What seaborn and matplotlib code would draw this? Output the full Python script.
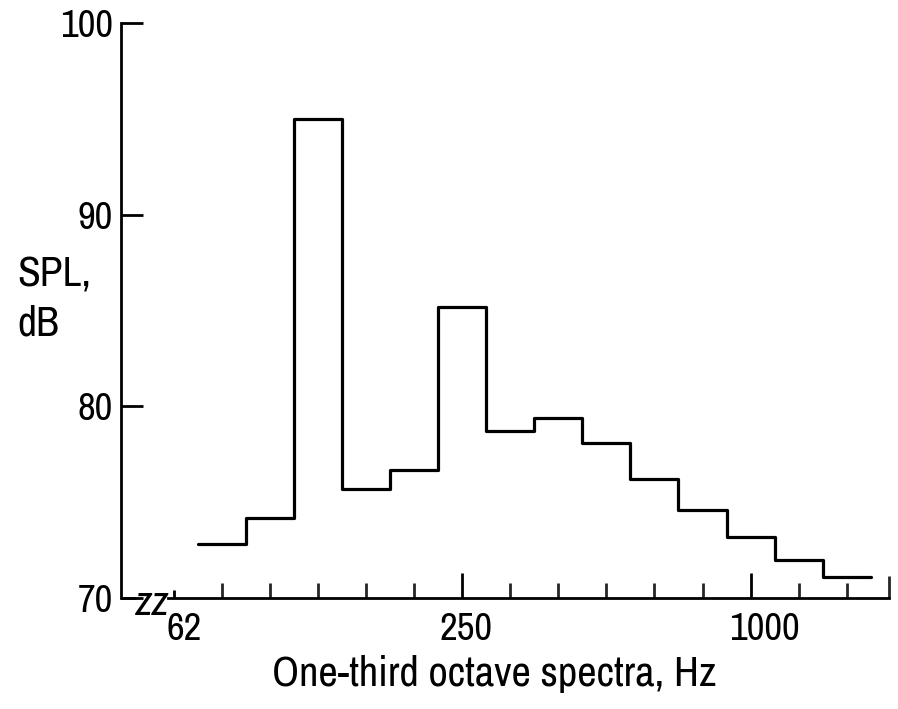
import numpy as np
import pandas as pd
import matplotlib
matplotlib.use("Agg")
import matplotlib.pyplot as plt
import matplotlib.transforms as mtransforms
import seaborn as sns
from matplotlib import font_manager as fm

# One-third octave band centre frequencies (Hz) and SPL (dB)
bands = ["80", "100", "125", "160", "200", "250", "315", "400", "500",
         "630", "800", "1000", "1250", "1600"]
spl = [72.8, 74.2, 95.0, 75.7, 76.7, 85.2, 78.7, 79.4, 78.1, 76.2,
       74.6, 73.2, 72.0, 71.1]
tick_labels = ["62", "250", "1000"]
y_ticks = [70, 80, 90, 100]

sns.set_style("ticks")
names = sorted({f.name for f in fm.fontManager.ttflist})
cands = [n for n in names if "Narrow" in n or "Condensed" in n]
FONT = cands[:1] + ["Liberation Sans", "DejaVu Sans"]
plt.rcParams["font.family"] = FONT
plt.rcParams["font.stretch"] = "condensed"
plt.rcParams["text.color"] = "black"

fig = plt.figure(figsize=(8.98, 7.09), dpi=100)
ax = fig.add_axes([121 / 898, (709 - 598) / 709, 768 / 898, 575 / 709])

# band index: 63 Hz -> 0, 80 Hz -> 1, ...
centers = np.arange(1, len(bands) + 1)
edges = np.append(centers - 0.5, centers[-1] + 0.5)
df = pd.DataFrame({"x": edges, "spl": spl + [spl[-1]]})
sns.lineplot(data=df, x="x", y="spl", drawstyle="steps-post", color="black",
             linewidth=2.3, ax=ax, estimator=None, sort=False)

xl, xr = -1.10, 14.88
ax.set_xlim(xl, xr)
ax.set_ylim(70, 100)

for s in ["top", "right"]:
    ax.spines[s].set_visible(False)
for s in ["left", "bottom"]:
    ax.spines[s].set_linewidth(2.0)
    ax.spines[s].set_color("black")
ax.spines["bottom"].set_bounds(-0.12, xr)

# axis break near origin
ax.plot([xl, -0.78], [70, 70], color="black", lw=2.0, clip_on=False,
        solid_capstyle="butt")
ax.text(-0.45, 69.75, "zz", fontsize=30, fontstyle="italic", fontweight="bold",
        ha="center", va="center", color="black")

# y ticks
ax.set_yticks(y_ticks)
ax.set_yticklabels([str(v) for v in y_ticks])
ax.tick_params(axis="y", direction="in", length=16, width=2.0, pad=6,
               labelsize=28, colors="black")

# x ticks
ax.set_xticks([0, 6, 12])
ax.set_xticklabels(tick_labels)
minor = [i for i in range(1, 15) if i not in (6, 12)] + [xr]
ax.set_xticks(minor, minor=True)
ax.tick_params(axis="x", which="major", direction="in", length=18, width=2.0,
               pad=10, labelsize=28, colors="black")
ax.tick_params(axis="x", which="minor", direction="in", length=11, width=2.0)
ax.xaxis.get_major_ticks()[0].tick1line.set_markersize(6)
ax.xaxis.get_minor_ticks()[-1].tick1line.set_markersize(16)

offsets = [10, 4, 14]
for lab, dx in zip(ax.get_xticklabels(), offsets):
    lab.set_transform(lab.get_transform() +
                      mtransforms.ScaledTranslation(dx / 100, 0, fig.dpi_scale_trans))

ax.set_xlabel("One-third octave spectra, Hz", fontsize=30.5, color="black")
ax.xaxis.set_label_coords((494 - 121) / 768, (598 - 655) / 575)
ax.set_ylabel("SPL,\ndB", fontsize=30, rotation=0, ha="left", va="center",
              linespacing=1.35, color="black")
ax.yaxis.set_label_coords((17 - 121) / 768, (598 - 299) / 575)

ax.set_facecolor("white")
fig.patch.set_facecolor("white")
fig.savefig("out.png", dpi=100)
